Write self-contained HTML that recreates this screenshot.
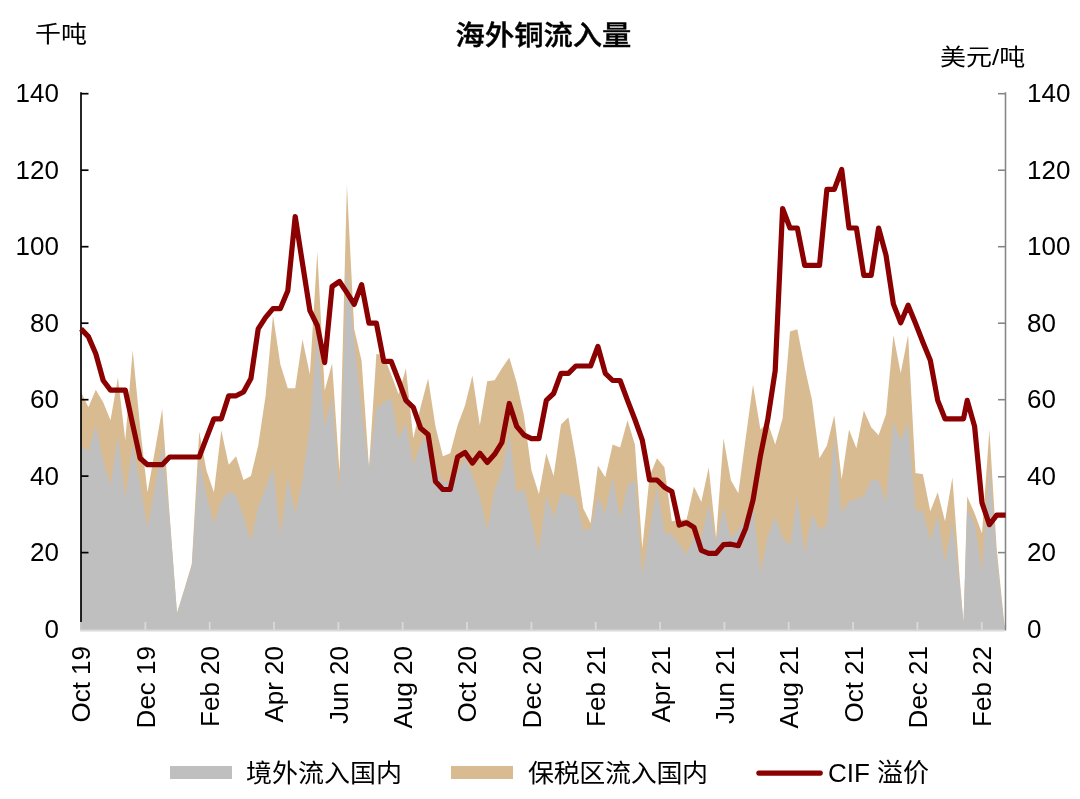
<!DOCTYPE html>
<html lang="zh">
<head>
<meta charset="utf-8">
<title>海外铜流入量</title>
<style>
html,body{margin:0;padding:0;background:#ffffff;}
body{width:1080px;height:799px;overflow:hidden;font-family:"Liberation Sans","Noto Sans CJK SC",sans-serif;}
svg{display:block;}
</style>
</head>
<body>
<svg width="1080" height="799" viewBox="0 0 1080 799">
<rect width="1080" height="799" fill="#ffffff"/>
<path d="M81.0,630.2 L81.0,392.0 L88.4,407.3 L95.8,389.7 L103.2,402.3 L110.5,420.3 L117.9,377.5 L125.3,440.2 L132.7,350.3 L140.1,426.4 L147.5,492.2 L154.8,451.3 L162.2,408.8 L169.6,514.4 L177.0,612.7 L184.4,588.9 L191.8,564.1 L199.2,431.4 L206.5,470.4 L213.9,492.2 L221.3,430.3 L228.7,464.7 L236.1,456.3 L243.5,480.0 L250.9,476.1 L258.2,445.5 L265.6,395.8 L273.0,315.5 L280.4,364.5 L287.8,388.2 L295.2,388.2 L302.5,339.6 L309.9,374.4 L317.3,251.7 L324.7,390.5 L332.1,363.3 L339.5,472.3 L346.9,184.8 L354.2,328.9 L361.6,360.7 L369.0,467.3 L376.4,353.8 L383.8,355.7 L391.2,374.8 L398.6,394.3 L405.9,368.3 L413.3,438.3 L420.7,406.5 L428.1,378.6 L435.5,426.4 L442.9,456.3 L450.2,453.2 L457.6,425.3 L465.0,405.4 L472.4,375.6 L479.8,425.3 L487.2,381.3 L494.6,380.2 L501.9,368.3 L509.3,357.6 L516.7,382.5 L524.1,416.5 L531.5,470.4 L538.9,494.1 L546.3,453.2 L553.6,476.1 L561.0,424.5 L568.4,417.3 L575.8,458.2 L583.2,508.3 L590.6,523.2 L597.9,465.4 L605.3,477.3 L612.7,444.4 L620.1,447.5 L627.5,420.3 L634.9,444.4 L642.3,548.0 L649.6,476.1 L657.0,458.2 L664.4,467.3 L671.8,521.3 L679.2,520.1 L686.6,519.4 L694.0,486.5 L701.3,502.1 L708.7,467.3 L716.1,538.1 L723.5,438.3 L730.9,480.3 L738.3,493.3 L745.6,438.7 L753.0,384.4 L760.4,429.5 L767.8,422.6 L775.2,444.4 L782.6,418.4 L790.0,331.6 L797.3,329.3 L804.7,367.2 L812.1,400.4 L819.5,458.2 L826.9,445.5 L834.3,415.3 L841.7,479.2 L849.0,429.5 L856.4,448.2 L863.8,410.4 L871.2,427.2 L878.6,435.2 L886.0,414.2 L893.4,335.0 L900.7,373.3 L908.1,335.0 L915.5,473.1 L922.9,474.2 L930.3,511.3 L937.7,492.2 L945.0,521.3 L952.4,477.3 L959.8,579.0 L963.5,622.6 L967.2,496.4 L974.6,513.2 L982.0,533.5 L989.4,429.5 L996.7,548.8 L1004.1,621.5 L1005.0,628.0 L1005.0,630.2 Z" fill="#d9bb92"/>
<path d="M81.0,630.2 L81.0,446.3 L88.4,451.3 L95.8,425.3 L103.2,460.8 L110.5,485.3 L117.9,434.8 L125.3,498.3 L132.7,444.4 L140.1,483.8 L147.5,527.4 L154.8,487.6 L162.2,446.3 L169.6,518.2 L177.0,613.8 L184.4,590.1 L191.8,566.0 L199.2,460.1 L206.5,495.3 L213.9,524.3 L221.3,501.0 L228.7,491.4 L236.1,495.3 L243.5,516.3 L250.9,541.1 L258.2,506.7 L265.6,488.4 L273.0,467.0 L280.4,536.2 L287.8,478.1 L295.2,513.6 L302.5,480.0 L309.9,424.5 L317.3,330.8 L324.7,426.4 L332.1,396.6 L339.5,492.2 L346.9,264.7 L354.2,340.4 L361.6,410.4 L369.0,468.5 L376.4,408.5 L383.8,402.3 L391.2,398.5 L398.6,438.3 L405.9,422.6 L413.3,464.7 L420.7,444.4 L428.1,434.1 L435.5,468.5 L442.9,481.9 L450.2,481.9 L457.6,472.3 L465.0,458.2 L472.4,476.1 L479.8,496.4 L487.2,530.1 L494.6,490.3 L501.9,470.4 L509.3,432.5 L516.7,493.3 L524.1,488.4 L531.5,520.1 L538.9,552.2 L546.3,495.3 L553.6,517.4 L561.0,493.3 L568.4,495.3 L575.8,498.3 L583.2,530.1 L590.6,529.3 L597.9,496.4 L605.3,513.2 L612.7,476.1 L620.1,519.4 L627.5,485.7 L634.9,480.0 L642.3,575.2 L649.6,530.1 L657.0,486.8 L664.4,532.4 L671.8,534.3 L679.2,544.2 L686.6,554.1 L694.0,536.2 L701.3,539.2 L708.7,504.4 L716.1,542.3 L723.5,507.1 L730.9,538.1 L738.3,530.1 L745.6,520.1 L753.0,505.2 L760.4,572.1 L767.8,536.2 L775.2,516.3 L782.6,538.1 L790.0,545.4 L797.3,496.8 L804.7,553.4 L812.1,513.2 L819.5,530.1 L826.9,524.3 L834.3,436.4 L841.7,513.2 L849.0,501.4 L856.4,499.1 L863.8,496.4 L871.2,480.3 L878.6,480.3 L886.0,502.1 L893.4,421.5 L900.7,440.2 L908.1,422.6 L915.5,510.2 L922.9,511.3 L930.3,540.4 L937.7,515.1 L945.0,562.2 L952.4,521.3 L959.8,585.1 L963.5,623.4 L967.2,509.4 L974.6,523.2 L982.0,571.7 L989.4,464.7 L996.7,556.4 L1004.1,625.3 L1005.0,628.0 L1005.0,630.2 Z" fill="#bfbfbf"/>
<g stroke="#000000" stroke-width="1.7" fill="none">
<line x1="81.0" y1="92.2" x2="81.0" y2="630"/>
<line x1="81.0" y1="552.6" x2="88.5" y2="552.6"/>
<line x1="81.0" y1="476.1" x2="88.5" y2="476.1"/>
<line x1="81.0" y1="399.7" x2="88.5" y2="399.7"/>
<line x1="81.0" y1="323.2" x2="88.5" y2="323.2"/>
<line x1="81.0" y1="246.7" x2="88.5" y2="246.7"/>
<line x1="81.0" y1="170.2" x2="88.5" y2="170.2"/>
<line x1="81.0" y1="93.7" x2="88.5" y2="93.7"/>
</g>
<g stroke="#858585" stroke-width="1.55" fill="none">
<line x1="1005.5" y1="92.2" x2="1005.5" y2="630.5"/>
<line x1="998.0" y1="552.6" x2="1005.5" y2="552.6"/>
<line x1="998.0" y1="476.8" x2="1005.5" y2="476.8"/>
<line x1="998.0" y1="399.7" x2="1005.5" y2="399.7"/>
<line x1="998.0" y1="323.2" x2="1005.5" y2="323.2"/>
<line x1="998.0" y1="246.7" x2="1005.5" y2="246.7"/>
<line x1="998.0" y1="170.2" x2="1005.5" y2="170.2"/>
<line x1="998.0" y1="93.7" x2="1005.5" y2="93.7"/>
</g>
<g stroke="#d9d9d9" stroke-width="1.8" fill="none">
<line x1="80.1" y1="630.5" x2="1004.7" y2="630.5"/>
<line x1="81.0" y1="622" x2="81.0" y2="630.5"/>
<line x1="145.3" y1="622" x2="145.3" y2="630.5"/>
<line x1="209.7" y1="622" x2="209.7" y2="630.5"/>
<line x1="274.0" y1="622" x2="274.0" y2="630.5"/>
<line x1="338.4" y1="622" x2="338.4" y2="630.5"/>
<line x1="402.7" y1="622" x2="402.7" y2="630.5"/>
<line x1="467.0" y1="622" x2="467.0" y2="630.5"/>
<line x1="531.4" y1="622" x2="531.4" y2="630.5"/>
<line x1="595.7" y1="622" x2="595.7" y2="630.5"/>
<line x1="660.1" y1="622" x2="660.1" y2="630.5"/>
<line x1="724.4" y1="622" x2="724.4" y2="630.5"/>
<line x1="788.7" y1="622" x2="788.7" y2="630.5"/>
<line x1="853.1" y1="622" x2="853.1" y2="630.5"/>
<line x1="917.4" y1="622" x2="917.4" y2="630.5"/>
<line x1="981.8" y1="622" x2="981.8" y2="630.5"/>
</g>
<polyline points="81.0,328.9 88.4,336.6 95.8,353.8 103.2,380.5 110.5,390.1 117.9,390.1 125.3,390.1 132.7,424.5 140.1,458.2 147.5,464.7 154.8,464.7 162.2,464.7 169.6,457.0 177.0,457.0 184.4,457.0 191.8,457.0 199.2,457.0 206.5,437.9 213.9,418.8 221.3,418.8 228.7,395.8 236.1,395.8 243.5,392.0 250.9,378.6 258.2,328.9 265.6,317.4 273.0,308.6 280.4,308.6 287.8,290.7 295.2,216.5 302.5,263.5 309.9,310.6 317.3,325.5 324.7,362.6 332.1,286.5 339.5,281.5 346.9,292.6 354.2,304.4 361.6,284.6 369.0,323.2 376.4,323.2 383.8,361.4 391.2,361.4 398.6,380.5 405.9,400.4 413.3,407.3 420.7,428.3 428.1,434.5 435.5,481.5 442.9,489.5 450.2,489.5 457.6,457.0 465.0,452.4 472.4,463.1 479.8,453.2 487.2,462.4 494.6,454.3 501.9,442.5 509.3,403.5 516.7,426.4 524.1,435.2 531.5,438.7 538.9,438.7 546.3,400.4 553.6,393.5 561.0,373.3 568.4,373.3 575.8,366.0 583.2,366.0 590.6,366.0 597.9,346.5 605.3,373.3 612.7,380.5 620.1,380.5 627.5,400.4 634.9,419.5 642.3,440.2 649.6,480.0 657.0,480.0 664.4,487.2 671.8,491.4 679.2,525.1 686.6,522.8 694.0,527.4 701.3,550.3 708.7,553.4 716.1,553.4 723.5,544.6 730.9,544.2 738.3,545.7 745.6,528.5 753.0,500.2 760.4,455.9 767.8,419.2 775.2,370.6 782.6,208.5 790.0,228.0 797.3,228.0 804.7,265.4 812.1,265.4 819.5,265.4 826.9,189.3 834.3,189.3 841.7,169.5 849.0,228.0 856.4,228.0 863.8,275.4 871.2,275.4 878.6,228.0 886.0,255.1 893.4,304.1 900.7,322.8 908.1,305.2 915.5,323.2 922.9,342.3 930.3,360.3 937.7,400.4 945.0,418.8 952.4,418.8 959.8,418.8 963.5,418.8 967.2,400.4 974.6,426.4 982.0,502.9 989.4,524.7 996.7,515.1 1004.1,515.1 1005.6,515.1" fill="none" stroke="#8b0000" stroke-width="5.2" stroke-linejoin="round" stroke-linecap="butt"/>
<g font-family="'Liberation Sans', 'Noto Sans CJK SC', sans-serif" fill="#000000">
<text x="59" y="637.7" font-size="26" text-anchor="end">0</text>
<text x="1027" y="637.7" font-size="26" text-anchor="start">0</text>
<text x="59" y="561.2" font-size="26" text-anchor="end">20</text>
<text x="1027" y="561.2" font-size="26" text-anchor="start">20</text>
<text x="59" y="484.7" font-size="26" text-anchor="end">40</text>
<text x="1027" y="484.7" font-size="26" text-anchor="start">40</text>
<text x="59" y="408.3" font-size="26" text-anchor="end">60</text>
<text x="1027" y="408.3" font-size="26" text-anchor="start">60</text>
<text x="59" y="331.8" font-size="26" text-anchor="end">80</text>
<text x="1027" y="331.8" font-size="26" text-anchor="start">80</text>
<text x="59" y="255.3" font-size="26" text-anchor="end">100</text>
<text x="1027" y="255.3" font-size="26" text-anchor="start">100</text>
<text x="59" y="178.8" font-size="26" text-anchor="end">120</text>
<text x="1027" y="178.8" font-size="26" text-anchor="start">120</text>
<text x="59" y="102.3" font-size="26" text-anchor="end">140</text>
<text x="1027" y="102.3" font-size="26" text-anchor="start">140</text>
<text transform="translate(90.4,646) rotate(-90)" font-size="26" text-anchor="end">Oct 19</text>
<text transform="translate(154.7,646) rotate(-90)" font-size="26" text-anchor="end">Dec 19</text>
<text transform="translate(219.1,646) rotate(-90)" font-size="26" text-anchor="end">Feb 20</text>
<text transform="translate(283.4,646) rotate(-90)" font-size="26" text-anchor="end">Apr 20</text>
<text transform="translate(347.8,646) rotate(-90)" font-size="26" text-anchor="end">Jun 20</text>
<text transform="translate(412.1,646) rotate(-90)" font-size="26" text-anchor="end">Aug 20</text>
<text transform="translate(476.4,646) rotate(-90)" font-size="26" text-anchor="end">Oct 20</text>
<text transform="translate(540.8,646) rotate(-90)" font-size="26" text-anchor="end">Dec 20</text>
<text transform="translate(605.1,646) rotate(-90)" font-size="26" text-anchor="end">Feb 21</text>
<text transform="translate(669.5,646) rotate(-90)" font-size="26" text-anchor="end">Apr 21</text>
<text transform="translate(733.8,646) rotate(-90)" font-size="26" text-anchor="end">Jun 21</text>
<text transform="translate(798.1,646) rotate(-90)" font-size="26" text-anchor="end">Aug 21</text>
<text transform="translate(862.5,646) rotate(-90)" font-size="26" text-anchor="end">Oct 21</text>
<text transform="translate(926.8,646) rotate(-90)" font-size="26" text-anchor="end">Dec 21</text>
<text transform="translate(991.2,646) rotate(-90)" font-size="26" text-anchor="end">Feb 22</text>
<text transform="translate(0,33.25) scale(1,0.885) translate(0,-33.00)" x="35" y="43" font-size="26">千吨</text>
<text transform="translate(0,55.80) scale(1,0.875) translate(0,-54.50)" x="940" y="65" font-size="26">美元/吨</text>
<text transform="translate(0,34.50) scale(1,0.935) translate(0,-34.75)" x="543.5" y="46" font-size="29.3" font-weight="500" stroke="#000" stroke-width="0.45" text-anchor="middle">海外铜流入量</text>
<rect x="170" y="766" width="62" height="13" fill="#bfbfbf"/>
<text transform="translate(0,772.25) scale(1,0.940) translate(0,-772.00)" x="246" y="782" font-size="26">境外流入国内</text>
<rect x="451" y="766" width="62" height="13" fill="#d9bb92"/>
<text transform="translate(0,772.25) scale(1,0.940) translate(0,-772.00)" x="528" y="782" font-size="26" letter-spacing="-0.3">保税区流入国内</text>
<line x1="758.8" y1="773.1" x2="820.3" y2="773.1" stroke="#8b0000" stroke-width="5.1" stroke-linecap="round"/>
<text x="828" y="782" font-size="26">CIF 溢价</text>
</g>
</svg>
</body>
</html>
